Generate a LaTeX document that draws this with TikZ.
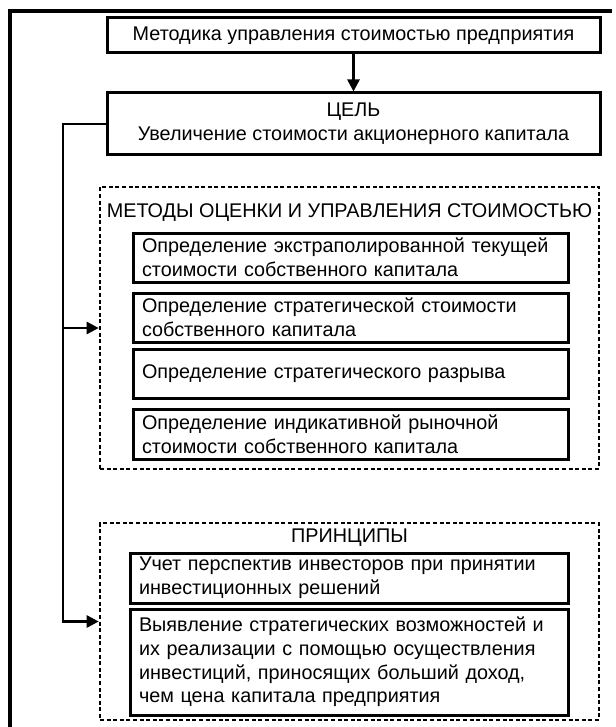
\documentclass[tikz,border=0pt]{standalone}
\usepackage{fontspec}
\setmainfont{Liberation Sans}
\usetikzlibrary{arrows.meta}

\newcommand\diagfont{\fontsize{19.8}{23.7}\selectfont}

\tikzset{
  solidbox/.style={draw, line width=3pt, inner xsep=9pt, inner ysep=0pt, font=\diagfont},
  dashbox/.style={draw, line width=2.6pt, dash pattern=on 4pt off 2.6pt, inner sep=0pt},
  link/.style={line width=2.6pt},
  tip/.style={-{Triangle[length=12pt, width=12pt]}}
}

\begin{document}
\begin{tikzpicture}[x=1pt, y=-1pt]
    \clip (0,0) rectangle (615,727);

    % draw outer frame
    \draw[line width=4pt] (10,740) |- (612,11);

    % draw top boxes
    \node[solidbox, minimum width=493pt, minimum height=35pt] (method) at (353.5,35.5)
      {Методика управления стоимостью предприятия};
    \node[solidbox, minimum width=493pt, minimum height=62pt, align=center] (goal) at (353.5,124)
      {ЦЕЛЬ\\Увеличение стоимости акционерного капитала};

    % draw dashed groups
    \node[dashbox, minimum width=499pt, minimum height=282pt] (methods) at (349.5,328) {};
    \node[dashbox, minimum width=499pt, minimum height=197pt] (principles) at (349.5,621.5) {};
    \node[font=\diagfont] (methodstitle) at (349.5,213) {МЕТОДЫ ОЦЕНКИ И УПРАВЛЕНИЯ СТОИМОСТЬЮ};
    \node[font=\diagfont] (principlestitle) at (349.5,538) {ПРИНЦИПЫ};

    % draw method boxes
    \node[solidbox, text width=417pt, minimum height=49pt, align=left] (m1) at (350.5,257.5)
      {Определение экстраполированной текущей\\стоимости собственного капитала};
    \node[solidbox, text width=417pt, minimum height=49pt, align=left] (m2) at (350.5,317.5)
      {Определение стратегической стоимости\\собственного капитала};
    \node[solidbox, text width=417pt, minimum height=49pt, align=left] (m3) at (350.5,373.5)
      {Определение стратегического разрыва};
    \node[solidbox, text width=417pt, minimum height=50pt, align=left] (m4) at (350.5,434)
      {Определение индикативной рыночной\\стоимости собственного капитала};

    % draw principle boxes
    \node[solidbox, text width=420pt, minimum height=50pt, align=left] (p1) at (349,578)
      {Учет перспектив инвесторов при принятии\\инвестиционных решений};
    \node[solidbox, text width=420pt, minimum height=106pt, align=left] (p2) at (349,662)
      {Выявление стратегических возможностей и\\их реализации с помощью осуществления\\инвестиций, приносящих больший доход,\\чем цена капитала предприятия};

    % draw arrows
    \coordinate (bus) at (63,0);
    \draw[link, tip] (method.south) -- (goal.north);
    \draw[link, tip] (goal.west) -| (bus |- principles.west) -- (principles.west);
    \draw[link, tip] (bus |- methods.west) -- (methods.west);

\end{tikzpicture}
\end{document}
